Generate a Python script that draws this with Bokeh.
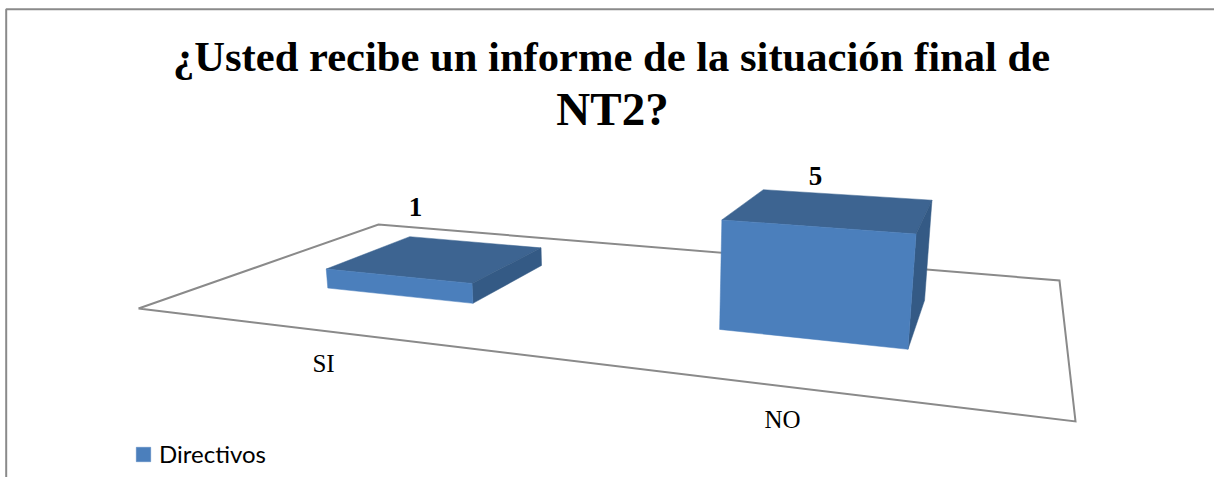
from bokeh.plotting import figure
from bokeh.models import Range1d, Legend, LegendItem
from bokeh.core.properties import value
from bokeh.embed import file_html
from bokeh.resources import INLINE

# data
title_lines = ["¿Usted recibe un informe de la situación final de", "NT2?"]
categories = ["SI", "NO"]
values = [1, 5]
series_name = "Directivos"

# layout of the 3D scene: projective camera fitted to the picture
A, B, C = 660.3, 379.8, 138.0
D, E, F = 4.6, -1.14, 308.0
G, H = -0.2574, 0.3699
I, J, K = -3.4, -21.85, -0.0053
U_CENTER = [0.2495, 0.7465]
U_HALF = 0.0995
V_FRONT, V_BACK = 0.30, 0.69
W, HGT = 1214, 477


def proj(u, v, z=0.0):
    w = G * u + H * v + K * z + 1
    return (A * u + B * v + I * z + C) / w, (D * u + E * v + J * z + F) / w


def poly(pts):
    xy = [proj(*q) for q in pts]
    return [q[0] for q in xy], [q[1] for q in xy]


p = figure(width=W, height=HGT, output_backend="svg", toolbar_location=None,
           x_range=Range1d(0, W), y_range=Range1d(HGT, 0), min_border=0,
           x_axis_location=None, y_axis_location=None)
p.grid.visible = False
p.outline_line_color = None
p.background_fill_color = "white"
p.border_fill_color = "white"

GREY = "#8a8a8a"
p.line([5.7, 5.7, W], [HGT, 8.7, 8.7], line_color=GREY, line_width=2)

# floor
fx, fy = poly([(0, 0), (1, 0), (1, 1), (0, 1), (0, 0)])
p.line(fx, fy, line_color=GREY, line_width=2, line_join="miter")

FRONT, TOP, SIDE = "#4b7fbc", "#3d6491", "#345a85"
legend_renderer = None
for uc, val in zip(U_CENTER, values):
    u0, u1 = uc - U_HALF, uc + U_HALF
    x, y = poly([(u0, V_BACK, val), (u1, V_BACK, val), (u1, V_FRONT, val), (u0, V_FRONT, val)])
    p.patch(x, y, fill_color=TOP, line_color=TOP, line_width=0.5)
    x, y = poly([(u1, V_FRONT, val), (u1, V_BACK, val), (u1, V_BACK, 0), (u1, V_FRONT, 0)])
    p.patch(x, y, fill_color=SIDE, line_color=SIDE, line_width=0.5)
    x, y = poly([(u0, V_FRONT, val), (u1, V_FRONT, val), (u1, V_FRONT, 0), (u0, V_FRONT, 0)])
    r = p.patch(x, y, fill_color=FRONT, line_color=FRONT, line_width=0.5)
    legend_renderer = legend_renderer or r

SERIF = value("Liberation Serif")
p.text([611], [55.5], text=title_lines[:1], text_font=SERIF, text_font_size="42.6px",
       text_font_style="bold", text_align="center", text_baseline="middle", text_color="black")
p.text([612], [108], text=title_lines[1:], text_font=SERIF, text_font_size="47px",
       text_font_style="bold", text_align="center", text_baseline="middle", text_color="black")
p.text([415, 815], [206, 175], text=[str(v) for v in values], text_font=SERIF,
       text_font_size="27px", text_font_style="bold", text_align="center",
       text_baseline="middle", text_color="black")
p.text([323, 782], [363, 419], text=categories, text_font=SERIF, text_font_size="25px",
       text_align="center", text_baseline="middle", text_color="black")

legend = Legend(items=[LegendItem(label=series_name, renderers=[legend_renderer])],
                location=(134, 9), orientation="horizontal", border_line_color=None,
                background_fill_alpha=0, padding=0, margin=0, spacing=0,
                glyph_width=18, glyph_height=18, label_standoff=7,
                label_text_font="Lato", label_text_font_size="24px",
                label_text_color="black")
p.add_layout(legend)

open("out.html", "w").write(file_html(p, INLINE))
